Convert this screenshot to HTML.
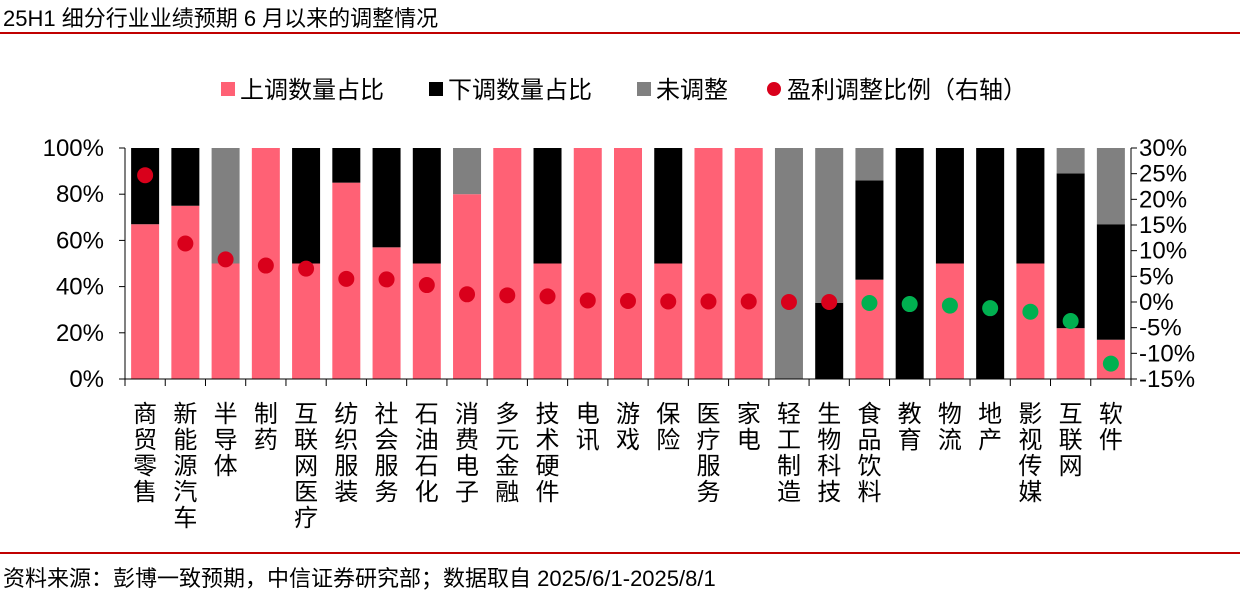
<!DOCTYPE html>
<html><head><meta charset="utf-8">
<style>
body{margin:0;background:#fff;width:1240px;height:594px;overflow:hidden;font-family:"Liberation Sans","Noto Sans CJK SC",sans-serif;}
svg text{font-family:"Liberation Sans","Noto Sans CJK SC",sans-serif;}
</style></head>
<body>
<svg id="chart" width="1240" height="594">
<text x="3" y="26" font-size="22" fill="#000">25H1 细分行业业绩预期 6 月以来的调整情况</text>
<line x1="0" y1="33" x2="1240" y2="33" stroke="#c00000" stroke-width="2"/>
<line x1="0" y1="553" x2="1240" y2="553" stroke="#c00000" stroke-width="2"/>
<text x="3" y="586" font-size="22" fill="#000">资料来源：彭博一致预期，中信证券研究部；数据取自 2025/6/1-2025/8/1</text>
<g>
 <rect x="221" y="82" width="14" height="14" fill="#ff6175"/>
 <text x="240" y="98" font-size="24">上调数量占比</text>
 <rect x="429" y="82" width="14" height="14" fill="#000"/>
 <text x="448" y="98" font-size="24">下调数量占比</text>
 <rect x="637" y="82" width="14" height="14" fill="#808080"/>
 <text x="656" y="98" font-size="24">未调整</text>
 <circle cx="774" cy="89" r="7" fill="#d9001b"/>
 <text x="787" y="98" font-size="24">盈利调整比例（右轴）</text>
</g>
<g id="plot"></g>
</svg>
<script>
const categories=["商贸零售","新能源汽车","半导体","制药","互联网医疗","纺织服装","社会服务","石油石化","消费电子","多元金融","技术硬件","电讯","游戏","保险","医疗服务","家电","轻工制造","生物科技","食品饮料","教育","物流","地产","影视传媒","互联网","软件"];
const upShare=[67,75,50,100,50,85,57,50,80,100,50,100,100,50,100,100,0,0,43,0,50,0,50,22,17];
const downShare=[33,25,0,0,50,15,43,50,0,0,50,0,0,50,0,0,0,33,43,100,50,100,50,67,50];
const flatShare=[0,0,50,0,0,0,0,0,20,0,0,0,0,0,0,0,100,67,14,0,0,0,0,11,33];
const ratio=[24.7,11.4,8.3,7.1,6.5,4.5,4.4,3.3,1.5,1.3,1.1,0.3,0.2,0.1,0.1,0.1,0.0,0.0,-0.2,-0.4,-0.7,-1.2,-1.9,-3.7,-12.0];
const leftTicks=["0%","20%","40%","60%","80%","100%"];
const rightTicks=["-15%","-10%","-5%","0%","5%","10%","15%","20%","25%","30%"];
const NS="http://www.w3.org/2000/svg";
const g=document.getElementById('plot');
const X0=125,X1=1131,Y0=379,Y1=148;
const step=(X1-X0)/categories.length;
const xc=i=>X0+step*(i+0.5);
const yL=v=>Y0-(Y0-Y1)*v/100;
const yR=v=>Y0-(Y0-Y1)*(v+15)/45;
function mk(t,a){const e=document.createElementNS(NS,t);for(const k in a)e.setAttribute(k,a[k]);g.appendChild(e);return e;}
const bw=28;
categories.forEach((c,i)=>{
  let base=0;
  [[upShare[i],'#ff6175','bar-up'],[downShare[i],'#000','bar-down'],[flatShare[i],'#808080','bar-unchanged']].forEach(([v,col,n])=>{
    if(v<=0)return;
    const r=mk('rect',{x:xc(i)-bw/2,y:yL(base+v),width:bw,height:yL(base)-yL(base+v),fill:col});
    
    
    base+=v;
  });
});
let a=mk('line',{x1:X0,y1:Y1,x2:X0,y2:Y0,stroke:'#000'});

a=mk('line',{x1:X1,y1:Y1,x2:X1,y2:Y0,stroke:'#000'});

a=mk('line',{x1:X0,y1:Y0,x2:X1,y2:Y0,stroke:'#000'});

leftTicks.forEach((t,i)=>{
  const y=yL(i*20);
  mk('line',{x1:X0-6,y1:y,x2:X0,y2:y,stroke:'#000'});
  const e=mk('text',{x:104,y:y+8,'font-size':24,'text-anchor':'end'});e.textContent=t;
  
  
});
rightTicks.forEach((t,i)=>{
  const y=yR(-15+i*5);
  mk('line',{x1:X1,y1:y,x2:X1+6,y2:y,stroke:'#000'});
  const e=mk('text',{x:1139,y:y+8,'font-size':24});e.textContent=t;
  
  
});
for(let i=0;i<=categories.length;i++){mk('line',{x1:X0+step*i,y1:Y0,x2:X0+step*i,y2:Y0+7,stroke:'#000'});}
categories.forEach((c,i)=>{
  [...c].forEach((ch,j)=>{
    const e=mk('text',{x:xc(i),y:422+j*26,'font-size':24,'text-anchor':'middle'});e.textContent=ch;
    
    
  });
});
ratio.forEach((v,i)=>{
  const d=mk('circle',{cx:xc(i),cy:yR(v),r:8,fill:(v>=0?'#d9001b':'#00b050')});
  
  
});
</script>
</body></html>
